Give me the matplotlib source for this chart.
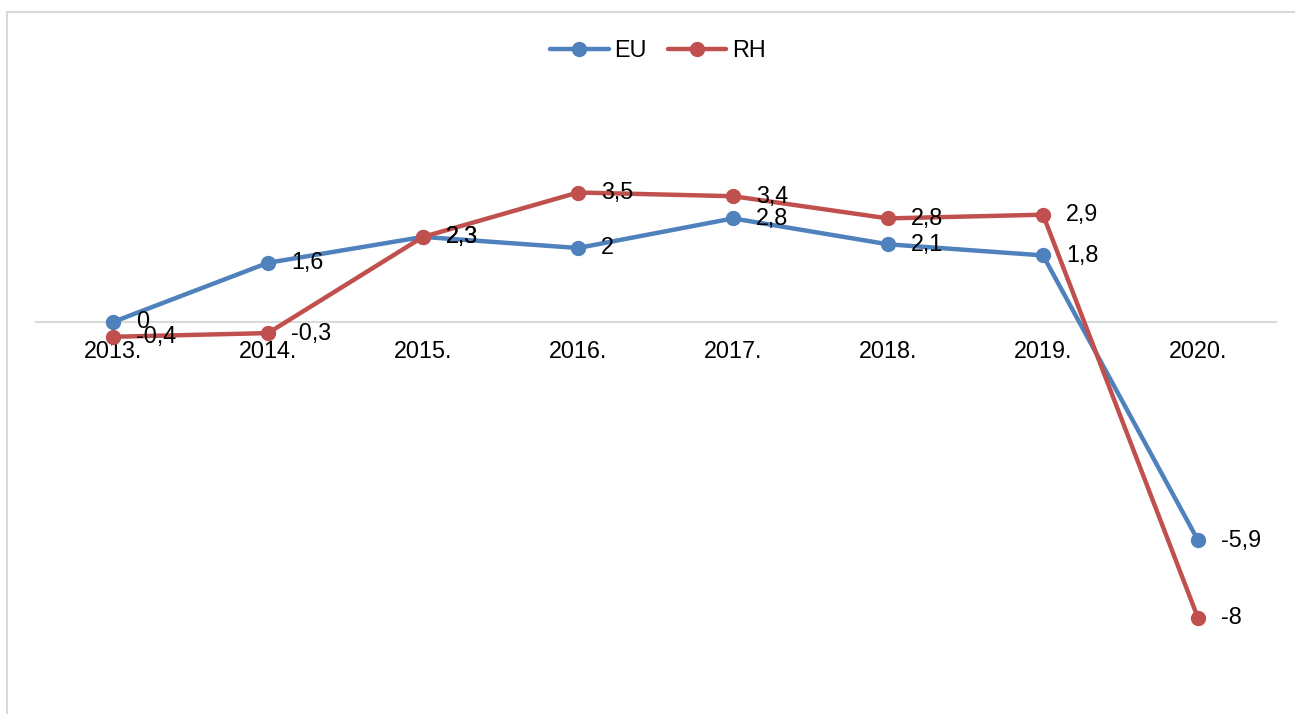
import matplotlib
matplotlib.use("Agg")
import matplotlib.pyplot as plt
from matplotlib.lines import Line2D
from matplotlib import font_manager as fm
import os

# pick the regular (non-narrow) Liberation Sans file explicitly
reg = None
for f in fm.findSystemFonts():
    if os.path.basename(f).lower() == "liberationsans-regular.ttf":
        reg = f
        break
if reg:
    fp_kwargs = dict(fname=reg)
else:
    fp_kwargs = dict(family="DejaVu Sans")

years = ["2013.", "2014.", "2015.", "2016.", "2017.", "2018.", "2019.", "2020."]
eu = [0, 1.6, 2.3, 2, 2.8, 2.1, 1.8, -5.9]
rh = [-0.4, -0.3, 2.3, 3.5, 3.4, 2.8, 2.9, -8]
eu_labels = ["0", "1,6", "2,3", "2", "2,8", "2,1", "1,8", "-5,9"]
rh_labels = ["-0,4", "-0,3", "2,3", "3,5", "3,4", "2,8", "2,9", "-8"]

W, H = 1295, 714
FS = 16.8
fp = fm.FontProperties(size=FS, **fp_kwargs)
fig = plt.figure(figsize=(W / 100, H / 100), dpi=100)

# axes placement (pixel based)
left_px, right_px = 35.5, 1275.5
zero_px, scale = 322, 37.0
ymin, ymax = -10, 6
top_px = zero_px - ymax * scale
bot_px = zero_px - ymin * scale
ax = fig.add_axes([left_px / W, 1 - bot_px / H, (right_px - left_px) / W, (bot_px - top_px) / H])
ax.set_xlim(-0.5, len(years) - 0.5)
ax.set_ylim(ymin, ymax)

x = list(range(len(years)))
blue = "#4F81BD"
red = "#C0504D"
ax.plot(x, eu, color=blue, lw=3.2, marker="o", ms=10, label="EU", zorder=3, solid_capstyle="round")
ax.plot(x, rh, color=red, lw=3.2, marker="o", ms=10, label="RH", zorder=4, solid_capstyle="round")

for xi, v, t in zip(x, eu, eu_labels):
    ax.annotate(t, (xi, v), xytext=(16.5, 0), textcoords="offset points", va="center", ha="left",
                fontproperties=fp, color="black", zorder=5)
for xi, v, t in zip(x, rh, rh_labels):
    ax.annotate(t, (xi, v), xytext=(16.5, 0), textcoords="offset points", va="center", ha="left",
                fontproperties=fp, color="black", zorder=5)

for s in ["top", "right", "left"]:
    ax.spines[s].set_visible(False)
ax.spines["bottom"].set_position(("data", 0))
ax.spines["bottom"].set_color("#D9D9D9")
ax.spines["bottom"].set_linewidth(1.5)
ax.set_yticks([])
ax.set_xticks(x)
ax.set_xticklabels(years, fontproperties=fp)
ax.tick_params(axis="x", length=0, pad=13)

leg = ax.legend(loc="upper center", bbox_to_anchor=(0.5 + (658 - 655.5) / 1240, 1 - (30 - top_px) / (bot_px - top_px)),
                ncol=2, frameon=False, prop=fp, handlelength=2.5, columnspacing=0.9, handletextpad=0.25,
                borderaxespad=0)

# figure border (cropped chart frame)
fig.add_artist(Line2D([7 / W, 1.0], [1 - 12 / H, 1 - 12 / H], color="#D9D9D9", lw=1.5, transform=fig.transFigure))
fig.add_artist(Line2D([7 / W, 7 / W], [0, 1 - 12 / H], color="#D9D9D9", lw=1.5, transform=fig.transFigure))

fig.savefig("out.png", dpi=100)
